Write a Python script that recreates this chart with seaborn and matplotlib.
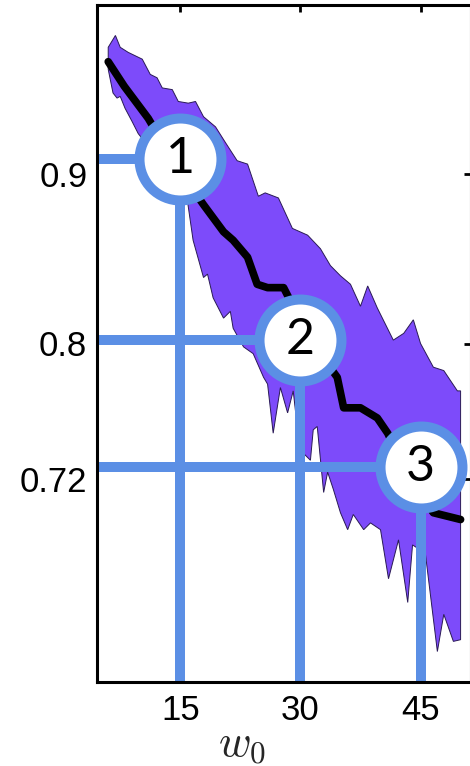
import numpy as np
import matplotlib
matplotlib.use('Agg')
import matplotlib.pyplot as plt
import seaborn as sns

# mean curve
mean_x = [6.0, 8.0, 11.0, 14.5, 17.9, 20.4, 21.6, 23.4, 24.6, 25.9, 27.9, 31.25,
          34.6, 35.4, 37.5, 39.6, 40.9, 43.75, 46.6, 50.0]
mean_y = [0.9665, 0.952, 0.933, 0.905, 0.882, 0.866, 0.861, 0.851, 0.835, 0.833,
          0.833, 0.802, 0.780, 0.762, 0.762, 0.756, 0.747, 0.719, 0.700, 0.696]

# upper edge of the band
upper_x = [6.0, 6.9, 7.5, 8.5, 10.25, 11.25, 12.1, 12.75, 14.0, 14.75, 16.0, 16.9,
           17.9, 19.4, 20.6, 22.1, 23.4, 24.75, 25.6, 27.25, 29.0, 30.9, 32.5,
           33.75, 35.0, 36.25, 37.5, 38.4, 39.6, 41.6, 42.9, 44.1, 45.0, 46.6,
           47.9, 49.6, 50.0]
upper_y = [0.975, 0.982, 0.975, 0.972, 0.968, 0.959, 0.957, 0.951, 0.950, 0.943,
           0.942, 0.943, 0.934, 0.928, 0.919, 0.908, 0.906, 0.887, 0.889, 0.886,
           0.868, 0.864, 0.856, 0.846, 0.840, 0.835, 0.822, 0.834, 0.821, 0.802,
           0.806, 0.814, 0.800, 0.786, 0.784, 0.772, 0.772]

# lower edge of the band
lower_x = [6.0, 6.6, 7.1, 7.5, 8.1, 9.0, 9.75, 10.25, 12.5, 14.4, 15.9, 16.6,
           17.9, 18.4, 19.1, 20.4, 21.25, 21.6, 22.9, 24.1, 25.4, 25.9, 26.6,
           27.5, 28.4, 29.1, 29.6, 30.4, 31.25, 31.6, 32.1, 32.9, 33.4, 34.1,
           35.0, 35.9, 36.6, 37.9, 38.75, 40.0, 41.0, 42.25, 43.4, 44.0, 45.6,
           47.1, 47.9, 49.1, 50.0]
lower_y = [0.962, 0.948, 0.945, 0.946, 0.939, 0.931, 0.924, 0.921, 0.905, 0.890,
           0.884, 0.861, 0.839, 0.841, 0.827, 0.815, 0.819, 0.809, 0.798, 0.794,
           0.780, 0.776, 0.747, 0.774, 0.759, 0.772, 0.751, 0.735, 0.731, 0.749,
           0.751, 0.712, 0.724, 0.714, 0.700, 0.690, 0.699, 0.690, 0.694, 0.690,
           0.661, 0.684, 0.647, 0.681, 0.676, 0.618, 0.640, 0.624, 0.625]

# numbered markers
marker_x = [15, 30, 45]
marker_y = [0.909, 0.802, 0.727]
marker_labels = ['1', '2', '3']

x_ticks = [15, 30, 45]
y_ticks = [0.72, 0.8, 0.9]
y_ticklabels = ['0.72', '0.8', '0.9']

sns.set_style('white')
plt.rcParams['font.family'] = ['Liberation Sans', 'DejaVu Sans']
plt.rcParams['mathtext.fontset'] = 'cm'

band_color = '#7D4BFA'
note_color = '#5B8FE5'

fig = plt.figure(figsize=(4.7, 7.66), dpi=100)
ax = fig.add_axes([97 / 470, 84 / 766, 374 / 470, 677 / 766])

xmin, xmax = 4.6, 51.3
ymin, ymax = 0.6, 1.0

# band
poly_x = np.concatenate([upper_x, lower_x[::-1]])
poly_y = np.concatenate([upper_y, lower_y[::-1]])
ax.fill(poly_x, poly_y, facecolor=band_color, edgecolor='#2a1a55', linewidth=0.7, zorder=1)

# mean line
sns.lineplot(x=mean_x, y=mean_y, color='black', linewidth=5.5, ax=ax, zorder=2,
             solid_joinstyle='round', solid_capstyle='round')

# guide lines
for mx, my in zip(marker_x, marker_y):
    ax.plot([xmin, mx], [my, my], color=note_color, linewidth=7.2,
            solid_capstyle='butt', zorder=3)
    ax.plot([mx, mx], [my, ymin], color=note_color, linewidth=7.2,
            solid_capstyle='butt', zorder=3)

ax.plot(marker_x, marker_y, 'o', markersize=59, markerfacecolor='white',
        markeredgecolor=note_color, markeredgewidth=7.2, zorder=4, clip_on=False)
for mx, my, lab in zip(marker_x, marker_y, marker_labels):
    ax.text(mx, my, lab, ha='center', va='center', fontsize=36,
            family=['Lato', 'DejaVu Sans'], color='black', zorder=5)

ax.set_xlim(xmin, xmax)
ax.set_ylim(ymin, ymax)
ax.set_xticks(x_ticks)
ax.set_xticklabels([str(t) for t in x_ticks])
ax.set_yticks(y_ticks)
ax.set_yticklabels(y_ticklabels)
ax.tick_params(direction='in', length=5, width=2, top=True, right=True,
               labelsize=25, colors='black', pad=7)
ax.tick_params(axis='x', pad=9)
for s in ax.spines.values():
    s.set_color('black')
    s.set_linewidth(2.2)
    s.set_zorder(6)

ax.set_xlabel('$w_0$', fontsize=32)
ax.xaxis.set_label_coords(0.388, -0.064)
ax.set_ylabel('')

fig.savefig('out.png', dpi=100)
